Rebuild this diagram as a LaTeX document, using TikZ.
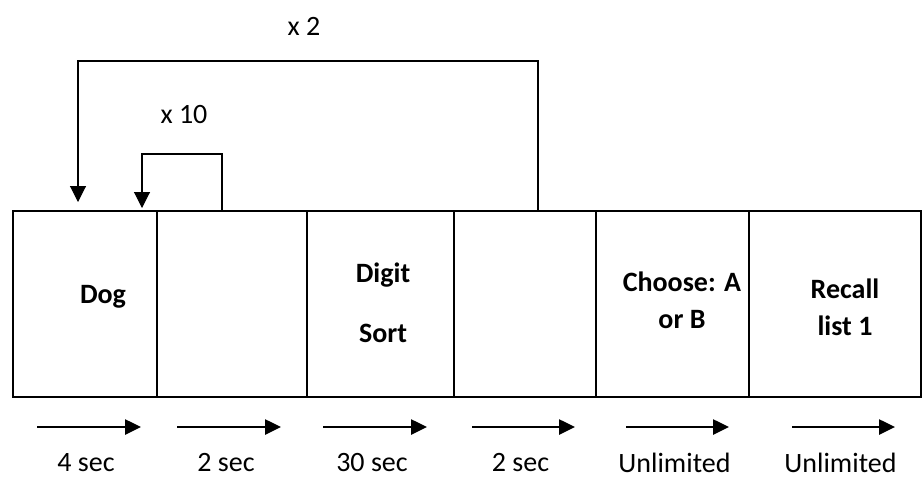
\documentclass[tikz,border=0pt]{standalone}
\usepackage{fontspec}
\setmainfont{Carlito}
\usetikzlibrary{positioning,calc,arrows.meta}

\begin{document}
\begin{tikzpicture}[x=0.75pt,y=-0.75pt,
    stage/.style={draw,line width=2.2pt,minimum height=139.5pt,inner sep=0pt,outer sep=0pt},
    stagetext/.style={font=\fontsize{21}{25}\selectfont\bfseries,align=center,inner sep=0pt},
    timetext/.style={font=\fontsize{21}{25}\selectfont,inner sep=0pt},
    loopline/.style={line width=0.8pt,-{Triangle[length=12pt,width=12pt]}},
    timearrow/.style={line width=1.1pt,-{Triangle[length=12pt,width=11.5pt]}}]
    \useasboundingbox (0,0) rectangle (923,480);

    % the six stages of one trial
    \node[stage,minimum width=108pt,anchor=north west] (b1) at (13,211) {};
    \node[stage,minimum width=112.5pt,right=0pt of b1] (b2) {};
    \node[stage,minimum width=110.25pt,right=0pt of b2] (b3) {};
    \node[stage,minimum width=106.5pt,right=0pt of b3] (b4) {};
    \node[stage,minimum width=114.75pt,right=0pt of b4] (b5) {};
    \node[stage,minimum width=129pt,right=0pt of b5] (b6) {};

    \node[stagetext] (dog) at (103,297) {Dog};
    \node[stagetext] (digit) at (383,303) {Digit\\[20pt]Sort};
    \node[stagetext] (choose) at (682,300) {Choose: A\\[3pt]or B};
    \node[stagetext] (recall) at (845,307) {Recall\\[3pt]list 1};

    % repeats
    \coordinate (x2in) at (78,202);
    \coordinate (x10in) at (142,208);
    \draw[loopline] ($(b4.north west)+(84,0)$) -- ++(0,-150) -| (x2in);
    \draw[loopline] ($(b2.north west)+(65,0)$) -- ++(0,-57) -| (x10in);
    \node[timetext] (x2) at (304,26) {x 2};
    \node[timetext] (x10) at (184,115) {x 10};

    % durations
    \foreach \s/\e/\t [count=\i] in {37/141/4 sec,177/281/2 sec,323/427/30 sec,472/575/2 sec,626/729/Unlimited,792/895/Unlimited}
    {
        \coordinate (s\i) at (\s,427);
        \coordinate (e\i) at (\e,427);
        \draw[timearrow] (s\i) -- (e\i);
        \node[timetext] (t\i) at ($(s\i)!0.5!(e\i)+(-3,36)$) {\t};
    }
\end{tikzpicture}
\end{document}
